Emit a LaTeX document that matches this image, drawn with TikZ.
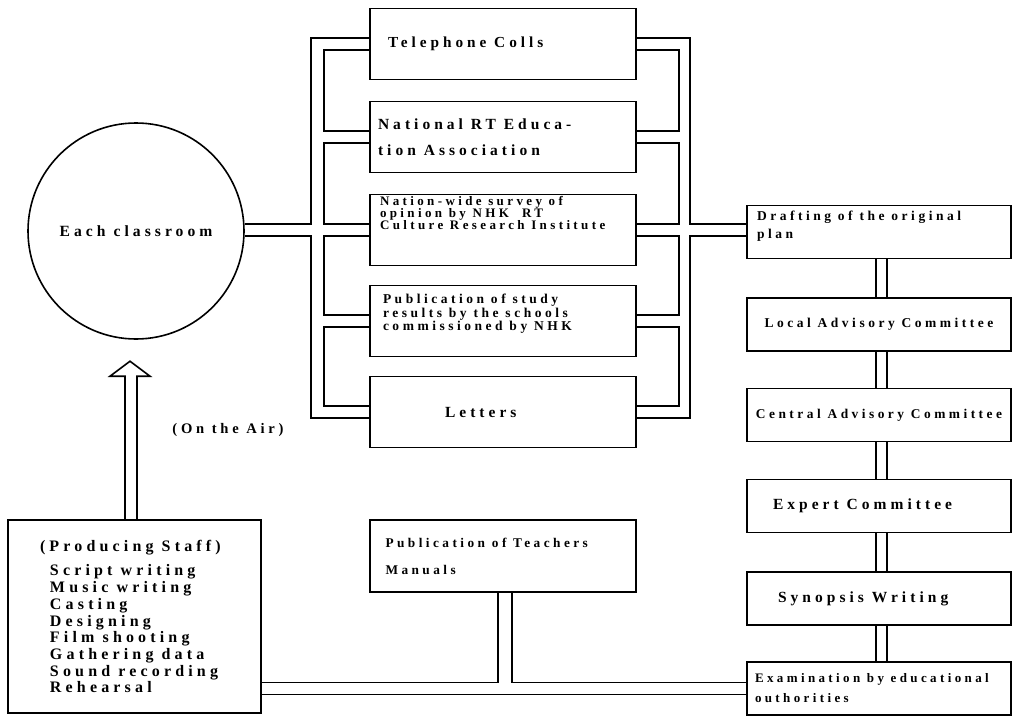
\documentclass[tikz,border=0pt]{standalone}
\usepackage{fontspec}
\newfontfamily\diagfont{Liberation Serif}[LetterSpace=26]
\usepackage{tikz}
\usetikzlibrary{calc}
\tikzset{
every picture/.style={x=1pt, y=-1pt, line width=1.6pt},
%%%%%%%%%%  Node styles
txt/.style 2 args={font=\diagfont\bfseries,
                   execute at begin node={\fontsize{#1}{#2}\selectfont
                   \spaceskip=0pt \xspaceskip=0pt}},
box/.style={draw, rectangle, inner sep=0pt, minimum width=266pt,
            minimum height=71pt},
rbox/.style={draw, rectangle, inner sep=0pt, minimum width=264pt,
             minimum height=53pt},
%%%%%%% text pushed to the top of a box
lift/.style={execute at end node={\par\vspace*{#1}}}
}

\begin{document}
\begin{tikzpicture}
\useasboundingbox (0,0) rectangle (1015,717);
%%%% x of the two double buses
\coordinate (lout) at (311,0);
\coordinate (lin) at (324,0);
\coordinate (rin) at (679,0);
\coordinate (rout) at (690,0);

\node[circle, draw, inner sep=0pt, minimum size=216pt, txt={15.6}{17}] (cls)
      at (136,231) {Each classroom};

%%%% middle column
\node[box, text width=230pt, align=left, txt={15.3}{17}] (tel) at (503,44)
      {Telephone Colls};
\node[box, text width=250pt, align=left, txt={15.5}{26}] (nat) at (503,137)
      {National RT Educa-\\tion Association};
\node[box, text width=246pt, align=left, txt={13}{12}, lift=34pt] (nw)
      at (503,230) {Nation-wide survey of\\opinion by NHK\ \ RT\\
      \mbox{Culture Research Institute}};
\node[box, text width=240pt, align=left, txt={13.5}{13.5}, lift=14pt] (pub)
      at (503,321) {Publication of study\\results by the schools\\
      commissioned by NHK};
\node[box, text width=116pt, align=left, txt={15.5}{17}] (ltr) at (503,412)
      {Letters};

%%%% right column
\node[rbox, text width=244pt, align=left, txt={13.5}{18}, lift=12pt] (dra)
      at (879,232) {Drafting of the original\\plan};
\node[rbox, txt={13.5}{15}] (loc) at (879,324.5) {Local Advisory Committee};
\node[rbox, txt={13.4}{15}] (cen) at (879,415) {Central Advisory Committee};
\node[rbox, text width=212pt, align=left, txt={15.5}{17}] (exp) at (879,506)
      {Expert Committee};
\node[rbox, text width=202pt, align=left, txt={15.5}{17}] (syn) at (879,598.5)
      {Synopsis Writing};
\node[rbox, text width=248pt, align=left, txt={13}{20}] (exa) at (879,688.5)
      {\mbox{Examination by educational}\\outhorities};

%%%% bottom row
\node[draw, inner sep=0pt, minimum width=253pt, minimum height=193pt,
      text width=210pt, align=left, txt={16}{16.7}] (prs) at (134.5,616.5)
      {\leftskip=10.5pt (Producing Staff)\par\vspace{8pt}\leftskip=20.5pt
       Script writing\\Music writing\\Casting\\Designing\\Film shooting\\
       Gathering data\\Sound recording\\Rehearsal\par};
\node[box, minimum height=72pt, text width=235pt, align=left, txt={13.3}{27}]
      (tch) at (503,556) {Publication of Teachers\\Manuals};
\node[txt={14.6}{16}] (air) at (228,430) {(On the Air)};

%%%% left bus
\draw ([yshift=6pt]tel.west) -- ([yshift=6pt]tel.west -| lout)
      -- ([yshift=6pt]nw.west -| lout) -- ([yshift=6pt]nw.west -| cls.east);
\draw ([yshift=-6pt]nw.west -| cls.east) -- ([yshift=-6pt]nw.west -| lout)
      -- ([yshift=-6pt]ltr.west -| lout) -- ([yshift=-6pt]ltr.west);
\foreach \a/\b in {tel/nat, nat/nw, nw/pub, pub/ltr}
  \draw ([yshift=-6pt]\a.west) -- ([yshift=-6pt]\a.west -| lin)
        -- ([yshift=6pt]\b.west -| lin) -- ([yshift=6pt]\b.west);

%%%% right bus
\draw ([yshift=6pt]tel.east) -- ([yshift=6pt]tel.east -| rout)
      -- ([yshift=6pt]nw.east -| rout) -- ([yshift=6pt]nw.east -| dra.west);
\draw ([yshift=-6pt]nw.east -| dra.west) -- ([yshift=-6pt]nw.east -| rout)
      -- ([yshift=-6pt]ltr.east -| rout) -- ([yshift=-6pt]ltr.east);
\foreach \a/\b in {tel/nat, nat/nw, nw/pub, pub/ltr}
  \draw ([yshift=-6pt]\a.east) -- ([yshift=-6pt]\a.east -| rin)
        -- ([yshift=6pt]\b.east -| rin) -- ([yshift=6pt]\b.east);

%%%% committee chain
\foreach \a/\b in {dra/loc, loc/cen, cen/exp, exp/syn, syn/exa} {
  \draw ([xshift=-3pt]\a.south) -- ([xshift=-3pt]\b.north);
  \draw ([xshift=8pt]\a.south) -- ([xshift=8pt]\b.north);
}

%%%% bottom double line
\draw ([yshift=6pt]exa.west -| prs.east)
      -- ([xshift=-5pt,yshift=6pt]tch.south |- exa.west) -- ([xshift=-5pt]tch.south);
\draw ([xshift=9pt]tch.south) -- ([xshift=9pt,yshift=6pt]tch.south |- exa.west)
      -- ([yshift=6pt]exa.west);
\draw ([yshift=-6pt]exa.west -| prs.east) -- ([yshift=-6pt]exa.west);

%%%% hollow arrow (On the Air)
\draw ([xshift=-9.5pt]prs.north) -- ++(0,-143) -- ++(-15,0) -- ++(20,-15)
      -- ++(20,15) -- ++(-13,0) -- ++(0,143);
\end{tikzpicture}
\end{document}
